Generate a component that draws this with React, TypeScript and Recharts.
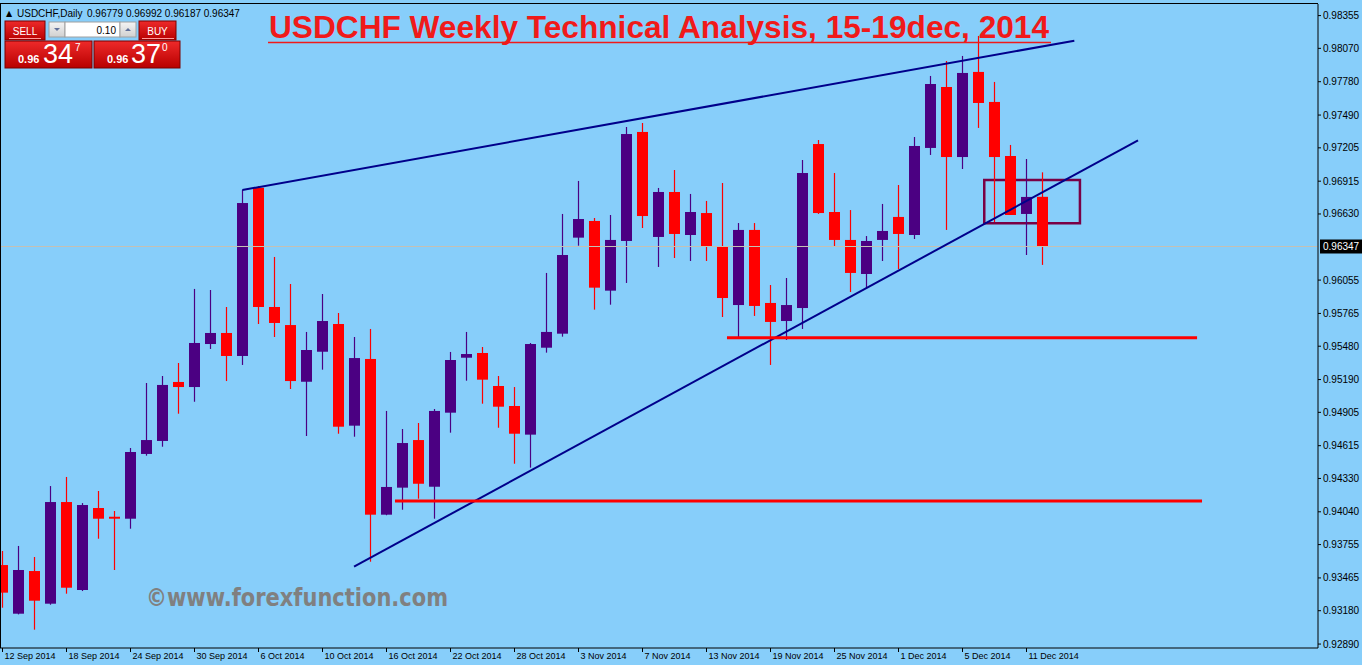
import React from "react";
import { ComposedChart, Bar, XAxis, YAxis, ReferenceLine, ReferenceArea } from "recharts";

// USDCHF daily, 12 Sep 2014 .. 12 Dec 2014
const dateLabels = [
  "12 Sep 2014", "18 Sep 2014", "24 Sep 2014", "30 Sep 2014", "6 Oct 2014", "10 Oct 2014",
  "16 Oct 2014", "22 Oct 2014", "28 Oct 2014", "3 Nov 2014", "7 Nov 2014", "13 Nov 2014",
  "19 Nov 2014", "25 Nov 2014", "1 Dec 2014", "5 Dec 2014", "11 Dec 2014",
];

const opens = [
  0.93577, 0.93154, 0.93525, 0.93241, 0.94125, 0.9336, 0.94073, 0.93997, 0.9398, 0.94543,
  0.94656, 0.95169, 0.95125, 0.95499, 0.95595, 0.95395, 0.96858, 0.95821, 0.95664, 0.95171,
  0.95432, 0.95673, 0.94789, 0.95369, 0.94015, 0.9425, 0.94664, 0.94258, 0.94902, 0.9538,
  0.95421, 0.95134, 0.9496, 0.94711, 0.95467, 0.95589, 0.96424, 0.96569, 0.95963, 0.96395,
  0.97343, 0.9643, 0.96821, 0.96447, 0.96638, 0.96351, 0.95838, 0.96491, 0.95856, 0.95699,
  0.95812, 0.97238, 0.96647, 0.96404, 0.96108, 0.96404, 0.96604, 0.96447, 0.97204, 0.97734,
  0.97125, 0.97865, 0.97604, 0.97134, 0.9663, 0.96779,
];
const highs = [
  0.93699, 0.93743, 0.93647, 0.94264, 0.94343, 0.94116, 0.94221, 0.94047, 0.94595, 0.9516,
  0.95221, 0.95334, 0.95978, 0.95969, 0.95821, 0.96838, 0.96873, 0.96256, 0.96021, 0.95604,
  0.95934, 0.95769, 0.9556, 0.9563, 0.94917, 0.9476, 0.94812, 0.94934, 0.9543, 0.95604,
  0.95473, 0.95221, 0.95125, 0.95508, 0.96117, 0.9663, 0.96917, 0.96595, 0.96621, 0.97386,
  0.97421, 0.96856, 0.97012, 0.96804, 0.96743, 0.96899, 0.96551, 0.96551, 0.96012, 0.96073,
  0.97099, 0.97273, 0.96986, 0.96664, 0.96438, 0.96717, 0.96882, 0.97299, 0.9783, 0.9796,
  0.98004, 0.98178, 0.97778, 0.9723, 0.97108, 0.96992,
];
const lows = [
  0.93206, 0.93148, 0.93015, 0.93232, 0.93328, 0.93351, 0.93806, 0.93534, 0.93893, 0.94528,
  0.94606, 0.94893, 0.94997, 0.95456, 0.95177, 0.95317, 0.95673, 0.9556, 0.95108, 0.94699,
  0.95276, 0.94719, 0.94693, 0.93606, 0.9401, 0.94058, 0.94154, 0.9398, 0.94728, 0.9518,
  0.9498, 0.94771, 0.94458, 0.94424, 0.95424, 0.95563, 0.96354, 0.95798, 0.95841, 0.9603,
  0.96508, 0.96169, 0.96247, 0.96221, 0.96221, 0.95734, 0.95551, 0.95743, 0.95317, 0.95534,
  0.9563, 0.9663, 0.96343, 0.95951, 0.95978, 0.96221, 0.96151, 0.96412, 0.97143, 0.96491,
  0.97021, 0.97378, 0.9656, 0.96621, 0.96273, 0.96187,
];
const closes = [
  0.93337, 0.93534, 0.93267, 0.94125, 0.9338, 0.94099, 0.9398, 0.9398, 0.9456, 0.94664,
  0.95143, 0.95125, 0.95508, 0.95595, 0.95395, 0.96725, 0.95821, 0.95682, 0.95177, 0.95447,
  0.95699, 0.9478, 0.95377, 0.94015, 0.94256, 0.94638, 0.94284, 0.94917, 0.9536, 0.95412,
  0.95189, 0.94954, 0.94719, 0.95499, 0.95604, 0.96273, 0.96586, 0.95989, 0.96404, 0.97325,
  0.96612, 0.96821, 0.96456, 0.96647, 0.96351, 0.95899, 0.96491, 0.9583, 0.95691, 0.95838,
  0.96986, 0.96638, 0.96404, 0.96117, 0.96395, 0.96482, 0.96456, 0.97221, 0.9776, 0.97125,
  0.97856, 0.97595, 0.97125, 0.96621, 0.96778, 0.96347,
];

const priceTicks = [
  0.98355, 0.9807, 0.9778, 0.9749, 0.97205, 0.96915, 0.9663, 0.96347, 0.96055, 0.95765,
  0.9548, 0.9519, 0.94905, 0.94615, 0.9433, 0.9404, 0.93755, 0.93465, 0.9318, 0.9289,
];
const lastPrice = 0.96347;

// drawn objects (bar index, price)
const upperTrend = [{ x: 14.99, y: 0.96838 }, { x: 66.99, y: 0.98137 }];
const lowerTrend = [{ x: 21.97, y: 0.93563 }, { x: 70.97, y: 0.9727 }];
const supportHigh = [{ x: 45.28, y: 0.95554 }, { x: 74.66, y: 0.95554 }];
const supportLow = [{ x: 24.53, y: 0.94134 }, { x: 74.97, y: 0.94134 }];
const boxArea = { x1: 61.36, x2: 67.34, y1: 0.96549, y2: 0.96925 };

const data = opens.map((o, i) => ({ i, o, h: highs[i], l: lows[i], c: closes[i] }));
const xTicks = dateLabels.map((_, k) => k * 4);

const BULL = "#4b0082";
const BEAR = "#ff0000";
const FONT = "'Liberation Sans', Arial, sans-serif";

const Candle = (props: any) => {
  const { x, y, width, height, payload } = props;
  if (x == null || y == null) return null;
  const top = Math.min(y, y + height);
  const hgt = Math.abs(height);
  const { o, h, l, c } = payload;
  const toY = (p: number) => top + ((h - p) / (h - l)) * hgt;
  const cx = x + width / 2;
  const color = c >= o ? BULL : BEAR;
  const bTop = toY(Math.max(o, c));
  const bBot = toY(Math.min(o, c));
  return (
    <g>
      <line x1={cx} x2={cx} y1={top} y2={top + hgt} stroke={color} strokeWidth={1.2} />
      <rect x={cx - 5.5} y={bTop} width={11} height={Math.max(bBot - bTop, 1.5)} fill={color} />
    </g>
  );
};

const XTick = (props: any) => {
  const { x, y, payload } = props;
  const label = dateLabels[Math.round(payload.value / 4)];
  return (
    <g>
      <line x1={x} x2={x} y1={y} y2={y + 4} stroke="#000" />
      <text x={x + 2} y={y + 11} fontSize={9} fontFamily={FONT} fill="#000">{label}</text>
    </g>
  );
};

const YTick = (props: any) => {
  const { x, y, payload } = props;
  const v = payload.value;
  if (v === lastPrice) {
    return (
      <g>
        <rect x={x + 2} y={y - 7} width={44} height={14} fill="#000" />
        <text x={x + 5} y={y + 3.5} fontSize={10} fontFamily={FONT} fill="#fff">{v.toFixed(5)}</text>
      </g>
    );
  }
  return (
    <g>
      <line x1={x} x2={x + 3} y1={y} y2={y} stroke="#000" />
      <text x={x + 5} y={y + 3.5} fontSize={10} fontFamily={FONT} fill="#000">{v.toFixed(5)}</text>
    </g>
  );
};

export default function App() {
  return (
    <div style={{ position: "absolute", left: 0, top: 0, width: 1362, height: 665, background: "#87cefa", overflow: "hidden" }}>
      <ComposedChart width={1362} height={665} data={data} margin={{ top: 4, right: 0, bottom: 0, left: 0 }}>
        <XAxis
          type="number"
          dataKey="i"
          domain={[-0.15625, 82.21875]}
          allowDataOverflow
          ticks={xTicks}
          interval={0}
          height={17}
          tickSize={0}
          tickMargin={0}
          tickLine={false}
          axisLine={{ stroke: "#000" }}
          tick={<XTick />}
        />
        <YAxis
          orientation="right"
          domain={[0.928557, 0.984557]}
          allowDataOverflow
          ticks={priceTicks}
          interval={0}
          width={44}
          tickSize={0}
          tickMargin={0}
          tickLine={false}
          axisLine={{ stroke: "#000" }}
          tick={<YTick />}
        />
        <ReferenceLine y={lastPrice} stroke="#c4c0b4" strokeWidth={1} />
        <Bar dataKey={(d: any) => [d.l, d.h]} barSize={12} shape={(p: any) => <Candle {...p} />} isAnimationActive={false} />
        <ReferenceLine segment={upperTrend} stroke="#00008b" strokeWidth={2} />
        <ReferenceLine segment={lowerTrend} stroke="#00008b" strokeWidth={2} />
        <ReferenceLine segment={supportHigh} stroke="#ff0000" strokeWidth={3} />
        <ReferenceLine segment={supportLow} stroke="#ff0000" strokeWidth={3} />
        <ReferenceArea {...boxArea} fill="none" fillOpacity={0} stroke="#7a0045" strokeWidth={2.5} />
      </ComposedChart>

      <div style={{ position: "absolute", left: 0, top: 3, width: 1318, height: 645, borderLeft: "1px solid #000", borderTop: "1px solid #000", boxSizing: "border-box", pointerEvents: "none" }} />

      <svg width={1362} height={665} style={{ position: "absolute", left: 0, top: 0, pointerEvents: "none" }}>
        <defs>
          <linearGradient id="redBtn" x1="0" y1="0" x2="0" y2="1">
            <stop offset="0" stopColor="#ee2a2a" />
            <stop offset="1" stopColor="#b80000" />
          </linearGradient>
          <linearGradient id="grayBtn" x1="0" y1="0" x2="0" y2="1">
            <stop offset="0" stopColor="#f4f4f4" />
            <stop offset="1" stopColor="#d0d0d0" />
          </linearGradient>
        </defs>

        <text x={6} y={16} fontSize={8} fontFamily="'DejaVu Sans', sans-serif" fill="#000">▲</text>
        <text x={17} y={17} fontSize={10} fontFamily={FONT} fill="#000">USDCHF,Daily</text>
        <text x={87} y={17} fontSize={10} fontFamily={FONT} fill="#000">0.96779 0.96992 0.96187 0.96347</text>

        <rect x={5} y={21} width={40} height={19} fill="url(#redBtn)" stroke="#7a0000" />
        <text x={25} y={34.5} fontSize={10} fontFamily={FONT} fill="#fff" textAnchor="middle">SELL</text>
        <line x1={9} x2={41} y1={38.5} y2={38.5} stroke="#ff9a9a" />
        <rect x={49} y={22} width={16} height={15} fill="url(#grayBtn)" stroke="#a0a0a0" />
        <path d="M54,28 L60,28 L57,31 Z" fill="#60709a" />
        <rect x={65} y={22} width={55} height={15} fill="#fff" stroke="#a0a0a0" />
        <text x={116} y={33.5} fontSize={10} fontFamily={FONT} fill="#000" textAnchor="end">0.10</text>
        <rect x={120} y={22} width={16} height={15} fill="url(#grayBtn)" stroke="#a0a0a0" />
        <path d="M125,31 L131,31 L128,28 Z" fill="#60709a" />
        <rect x={139} y={21} width={37} height={19} fill="url(#redBtn)" stroke="#7a0000" />
        <text x={157.5} y={34.5} fontSize={10} fontFamily={FONT} fill="#fff" textAnchor="middle">BUY</text>
        <line x1={142} x2={174} y1={38.5} y2={38.5} stroke="#ff9a9a" />

        <rect x={5} y={41} width={87} height={27} fill="url(#redBtn)" stroke="#7a0000" />
        <text x={18} y={63} fontSize={11} fontWeight="bold" fontFamily={FONT} fill="#fff">0.96</text>
        <text x={43} y={63} fontSize={27} fontFamily={FONT} fill="#fff">34</text>
        <text x={75} y={50.5} fontSize={10} fontFamily={FONT} fill="#fff">7</text>
        <rect x={94} y={41} width={86} height={27} fill="url(#redBtn)" stroke="#7a0000" />
        <text x={107} y={63} fontSize={11} fontWeight="bold" fontFamily={FONT} fill="#fff">0.96</text>
        <text x={131} y={63} fontSize={27} fontFamily={FONT} fill="#fff">37</text>
        <text x={162} y={50.5} fontSize={10} fontFamily={FONT} fill="#fff">0</text>

        <text x={269} y={38} fontSize={32} fontWeight="bold" fontFamily={FONT} fill="#f01a1a" textLength={780} lengthAdjust="spacingAndGlyphs">
          USDCHF Weekly Technical Analysis, 15-19dec, 2014
        </text>
        <line x1={268} x2={1051} y1={42.5} y2={42.5} stroke="#f01a1a" strokeWidth={1.5} />

        <text x={146} y={606} fontSize={24} fontWeight="bold" fontFamily="'DejaVu Sans', sans-serif" fill="#808080" textLength={302} lengthAdjust="spacingAndGlyphs">
          ©www.forexfunction.com
        </text>
      </svg>
    </div>
  );
}
